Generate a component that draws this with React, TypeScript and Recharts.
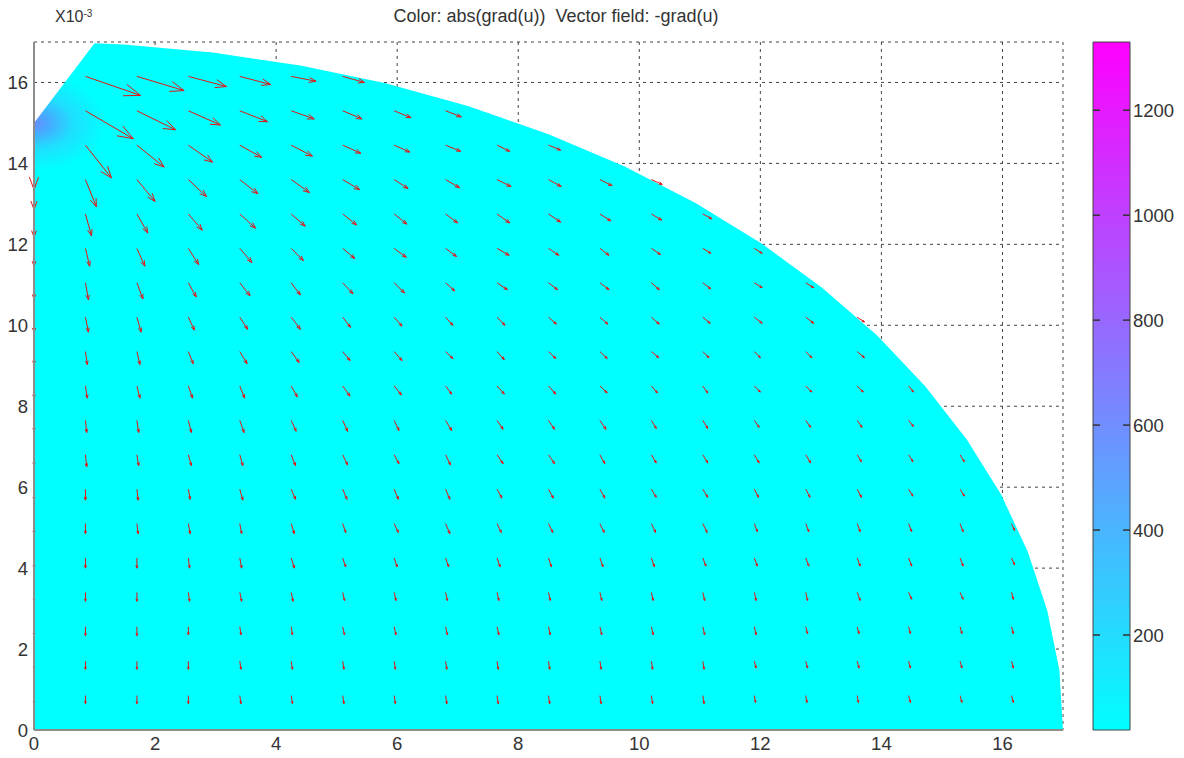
import React from 'react';
import {
  ComposedChart,
  Area,
  XAxis,
  YAxis,
  CartesianGrid,
  ReferenceLine,
  ReferenceArea,
} from 'recharts';

// axis ticks (x10^-3)
const AXIS_TICKS = [0, 2, 4, 6, 8, 10, 12, 14, 16];
const AXIS_DOMAIN = [0, 17];

// colour bar: abs(grad(u))
const COLOR_RANGE = [19, 1330];
const COLORBAR_TICKS = [200, 400, 600, 800, 1000, 1200];

// outline of the domain (upper edge, filled down to y = 0)
const BOUNDARY_X = [0, 1.0, 1.48, 2.95, 4.4, 5.81, 7.18, 8.5, 9.75, 10.93, 12.02, 13.02, 13.93, 14.72, 15.41, 15.98, 16.42, 16.74, 16.94, 17];
const BOUNDARY_Y = [15, 16.97, 16.94, 16.74, 16.42, 15.98, 15.41, 14.72, 13.93, 13.02, 12.02, 10.93, 9.75, 8.5, 7.18, 5.81, 4.4, 2.95, 1.48, 0];

// quiver sample points
const GRID_X = [0, 0.85, 1.7, 2.55, 3.4, 4.25, 5.1, 5.95, 6.8, 7.65, 8.5, 9.35, 10.2, 11.05, 11.9, 12.75, 13.6, 14.45, 15.3, 16.15];
const GRID_Y = [0.85, 1.7, 2.55, 3.4, 4.25, 5.1, 5.95, 6.8, 7.65, 8.5, 9.35, 10.2, 11.05, 11.9, 12.75, 13.6, 14.45, 15.3, 16.15];

// -grad(u), x component (scaled, 1/100 axis unit), one row per GRID_Y
const U_ROWS: (number | null)[][] = [
  [0, 0, 0, 0, 2, 2, 2, 2, 2, 2, 2, 2, 2, 2, 2, 2, 2, 3, 3, 3],
  [0, 0, 0, 0, 2, 2, 2, 2, 2, 2, 2, 2, 2, 2, 3, 3, 3, 3, 3, 3],
  [0, 0, 0, 0, 2, 2, 3, 3, 3, 3, 3, 3, 3, 3, 3, 3, 3, 3, 3, 3],
  [0, 0, 0, 2, 3, 3, 3, 3, 3, 3, 3, 3, 3, 3, 3, 3, 5, 5, 5, 3],
  [0, 0, 0, 2, 3, 5, 5, 5, 5, 5, 5, 5, 5, 5, 5, 5, 5, 5, 5, 5],
  [0, 0, 2, 3, 3, 5, 5, 7, 7, 7, 7, 7, 7, 7, 5, 5, 5, 5, 5, 5],
  [0, 0, 2, 3, 5, 7, 7, 7, 7, 8, 8, 8, 8, 8, 7, 7, 7, 7, 7],
  [0, 2, 3, 5, 5, 7, 8, 8, 8, 10, 10, 8, 8, 8, 8, 8, 7, 7, 7],
  [0, 2, 3, 5, 7, 8, 8, 8, 10, 10, 10, 10, 8, 8, 8, 8, 8, 8],
  [0, 3, 5, 7, 8, 10, 12, 12, 10, 12, 12, 12, 10, 8, 10, 10, 10, 8],
  [0, 3, 5, 8, 12, 13, 12, 13, 12, 12, 12, 12, 12, 10, 10, 10, 12],
  [0, 5, 7, 10, 13, 15, 13, 13, 12, 13, 13, 13, 13, 12, 13, 13, 12],
  [0, 5, 10, 13, 17, 15, 17, 17, 15, 17, 15, 15, 13, 13, 13, 13],
  [0, 7, 13, 17, 20, 20, 20, 20, 18, 20, 17, 15, 15, 13, 13],
  [0, 10, 18, 23, 26, 23, 23, 21, 20, 21, 20, 18, 17, 15],
  [0, 18, 30, 30, 30, 30, 28, 23, 23, 23, 21, 20, 18],
  [0, 43, 45, 40, 36, 35, 30, 26, 25, 21, 20],
  [null, 79, 64, 53, 46, 38, 32, 28, 26],
  [null, 91, 78, 63, 51, 41, 36],
];

// -grad(u), y component (scaled, 1/100 axis unit)
const V_ROWS: (number | null)[][] = [
  [-20, -20, -20, -20, -20, -20, -20, -20, -20, -20, -20, -20, -20, -20, -17, -17, -17, -17, -17, -17],
  [-20, -20, -20, -20, -20, -20, -20, -20, -20, -20, -20, -20, -20, -20, -17, -17, -17, -17, -17, -17],
  [-22, -22, -22, -20, -20, -20, -20, -20, -20, -20, -20, -20, -20, -20, -20, -17, -17, -17, -17, -17],
  [-22, -22, -22, -22, -22, -22, -20, -20, -20, -20, -20, -20, -20, -20, -20, -20, -20, -17, -17, -17],
  [-25, -25, -25, -25, -25, -25, -22, -22, -22, -22, -22, -22, -22, -20, -20, -20, -20, -20, -20, -17],
  [-25, -25, -25, -25, -25, -25, -22, -22, -25, -22, -22, -22, -22, -22, -20, -20, -20, -20, -20, -17],
  [-27, -27, -27, -25, -27, -25, -25, -25, -25, -22, -22, -22, -20, -20, -20, -20, -20, -17, -17],
  [-27, -30, -27, -27, -27, -27, -25, -22, -25, -22, -22, -22, -20, -20, -20, -20, -17, -17, -17],
  [-27, -30, -30, -30, -30, -27, -27, -25, -25, -22, -22, -22, -20, -20, -17, -17, -17, -15],
  [-30, -30, -30, -30, -30, -27, -25, -22, -20, -20, -20, -17, -17, -17, -15, -15, -15, -15],
  [-32, -32, -32, -30, -30, -27, -22, -22, -17, -20, -17, -17, -15, -15, -15, -15, -15],
  [-37, -37, -37, -32, -30, -30, -25, -22, -20, -20, -17, -17, -17, -15, -15, -15, -12],
  [-40, -42, -40, -35, -32, -30, -27, -25, -20, -17, -17, -17, -17, -15, -12, -12],
  [-44, -44, -44, -40, -35, -30, -25, -22, -20, -17, -17, -17, -15, -12, -12],
  [-57, -54, -47, -40, -35, -30, -27, -25, -22, -22, -20, -17, -15, -12],
  [-74, -67, -54, -42, -35, -32, -25, -22, -20, -17, -17, -15, -12],
  [-110, -81, -54, -42, -30, -27, -20, -17, -15, -15, -12],
  [null, -69, -47, -35, -27, -20, -20, -17, -15],
  [null, -47, -35, -25, -20, -12, -15],
];

const ARROW_SCALE = 0.01;

const domainData = BOUNDARY_X.map((x, k) => ({ x, y: BOUNDARY_Y[k] }));

const arrows: { x1: number; y1: number; x2: number; y2: number }[] = [];
U_ROWS.forEach((row, j) => {
  row.forEach((u, i) => {
    const v = V_ROWS[j][i];
    if (u === null || v === null) return;
    const x1 = GRID_X[i];
    const y1 = GRID_Y[j];
    arrows.push({ x1, y1, x2: x1 + u * ARROW_SCALE, y2: y1 + v * ARROW_SCALE });
  });
});

const FONT = '"Liberation Sans", Arial, sans-serif';
const tickStyle = { fontSize: 18.5, fill: '#333', fontFamily: FONT };
const frame = { stroke: '#8c8c8c', strokeWidth: 2 };
const CB_WIDTH = 37;
const TICK_LEN = 7;

const Arrow = (props: any) => {
  const { x1, y1, x2, y2 } = props;
  const dx = x2 - x1;
  const dy = y2 - y1;
  const len = Math.hypot(dx, dy);
  if (!len) return <g />;
  const ux = dx / len;
  const uy = dy / len;
  const h = Math.max(2.5, len * 0.3);
  const c = Math.cos(0.35);
  const s = Math.sin(0.35);
  const lx = x2 - h * (ux * c - uy * s);
  const ly = y2 - h * (uy * c + ux * s);
  const rx = x2 - h * (ux * c + uy * s);
  const ry = y2 - h * (uy * c - ux * s);
  return (
    <path
      d={`M${x1},${y1}L${x2},${y2}M${lx},${ly}L${x2},${y2}L${rx},${ry}`}
      stroke="#e41515"
      strokeWidth={1}
      fill="none"
    />
  );
};

// inward tick marks on the top and right frame
const TopTick = ({ x, y }: any) => (
  <line x1={x} y1={y} x2={x} y2={y + TICK_LEN} stroke="#333" strokeWidth={1.5} />
);
const RightTick = ({ x, y }: any) => (
  <line x1={x - TICK_LEN} y1={y} x2={x} y2={y} stroke="#666" strokeWidth={1.5} />
);

// colour bar tick: marks on both inner edges plus the label
const ColorbarTick = ({ x, y, payload }: any) => (
  <g>
    <line x1={x - CB_WIDTH} y1={y} x2={x - CB_WIDTH + TICK_LEN} y2={y} stroke="#333" strokeWidth={1.5} />
    <line x1={x - TICK_LEN} y1={y} x2={x} y2={y} stroke="#333" strokeWidth={1.5} />
    <text x={x + 3} y={y} dy="0.355em" textAnchor="start" {...tickStyle}>
      {payload.value}
    </text>
  </g>
);

const App = () => {
  return (
    <div style={{ position: 'absolute', left: 0, top: 0, width: 1184, height: 758, background: '#fff', fontFamily: FONT }}>
      <div style={{ position: 'absolute', left: 0, top: 7, width: 1112, textAlign: 'center', fontSize: 18, lineHeight: 1, color: '#333' }}>
        Color: abs(grad(u))&nbsp; Vector field: -grad(u)
      </div>
      <div style={{ position: 'absolute', left: 55, top: 9, fontSize: 16, lineHeight: 1, color: '#333' }}>
        X10<span style={{ fontSize: 10, position: 'relative', top: -5 }}>-3</span>
      </div>

      <div style={{ position: 'absolute', left: 0, top: 0 }}>
        <ComposedChart width={1184} height={758} data={domainData} margin={{ top: 42, right: 121, bottom: 4, left: 4 }}>
          <defs>
            <radialGradient id="cornerFill" cx="0" cy="0.116" r="0.07">
              <stop offset="0" stopColor="#6a8cff" />
              <stop offset="0.2" stopColor="#48a8ff" />
              <stop offset="0.55" stopColor="#1ee0ff" />
              <stop offset="1" stopColor="#00ffff" />
            </radialGradient>
          </defs>
          <CartesianGrid stroke="#444" strokeDasharray="3 4" />
          <XAxis
            dataKey="x"
            type="number"
            domain={AXIS_DOMAIN}
            ticks={AXIS_TICKS}
            interval={0}
            allowDataOverflow
            height={24}
            tickSize={-6}
            tickMargin={13}
            tick={tickStyle}
            axisLine={frame}
            tickLine={false}
          />
          <XAxis
            xAxisId="top"
            orientation="top"
            type="number"
            domain={AXIS_DOMAIN}
            ticks={AXIS_TICKS.filter((t) => t > 0)}
            interval={0}
            allowDataOverflow
            height={0}
            tickSize={0}
            tickMargin={0}
            tick={TopTick}
            axisLine={frame}
            tickLine={false}
          />
          <YAxis
            type="number"
            domain={AXIS_DOMAIN}
            ticks={AXIS_TICKS}
            interval={0}
            allowDataOverflow
            width={30}
            tickSize={-6}
            tickMargin={12}
            tick={tickStyle}
            axisLine={frame}
            tickLine={false}
          />
          <YAxis
            yAxisId="right"
            orientation="right"
            type="number"
            domain={AXIS_DOMAIN}
            ticks={AXIS_TICKS.filter((t) => t > 0)}
            interval={0}
            allowDataOverflow
            width={0}
            tickSize={0}
            tickMargin={0}
            tick={RightTick}
            axisLine={frame}
            tickLine={false}
          />
          <Area
            dataKey="y"
            type="linear"
            stroke="none"
            fill="url(#cornerFill)"
            fillOpacity={1}
            baseValue={0}
            dot={false}
            activeDot={false}
            isAnimationActive={false}
          />
          {arrows.map((a, k) => (
            <ReferenceLine
              key={k}
              segment={[{ x: a.x1, y: a.y1 }, { x: a.x2, y: a.y2 }]}
              ifOverflow="visible"
              shape={Arrow}
            />
          ))}
        </ComposedChart>
      </div>

      {/* colour bar gradient sits behind the transparent colour bar chart */}
      <div
        style={{
          position: 'absolute',
          left: 1093,
          top: 42,
          width: CB_WIDTH,
          height: 688,
          background: 'linear-gradient(to top, #00ffff, #ff00ff)',
        }}
      />
      <div style={{ position: 'absolute', left: 1080, top: 0 }}>
        <ComposedChart
          width={104}
          height={758}
          data={[{ x: 0 }, { x: 1 }]}
          margin={{ top: 42, right: 0, bottom: 28, left: 13 }}
        >
          <XAxis dataKey="x" type="number" domain={[0, 1]} hide />
          <YAxis
            orientation="right"
            type="number"
            domain={COLOR_RANGE}
            ticks={COLORBAR_TICKS}
            interval={0}
            allowDataOverflow
            width={54}
            tickSize={0}
            tickMargin={0}
            tick={ColorbarTick}
            axisLine={false}
            tickLine={false}
          />
          <ReferenceArea
            x1={0}
            x2={1}
            y1={COLOR_RANGE[0]}
            y2={COLOR_RANGE[1]}
            fill="none"
            stroke="#444"
            strokeWidth={1}
            ifOverflow="visible"
          />
        </ComposedChart>
      </div>
    </div>
  );
};

export default App;
